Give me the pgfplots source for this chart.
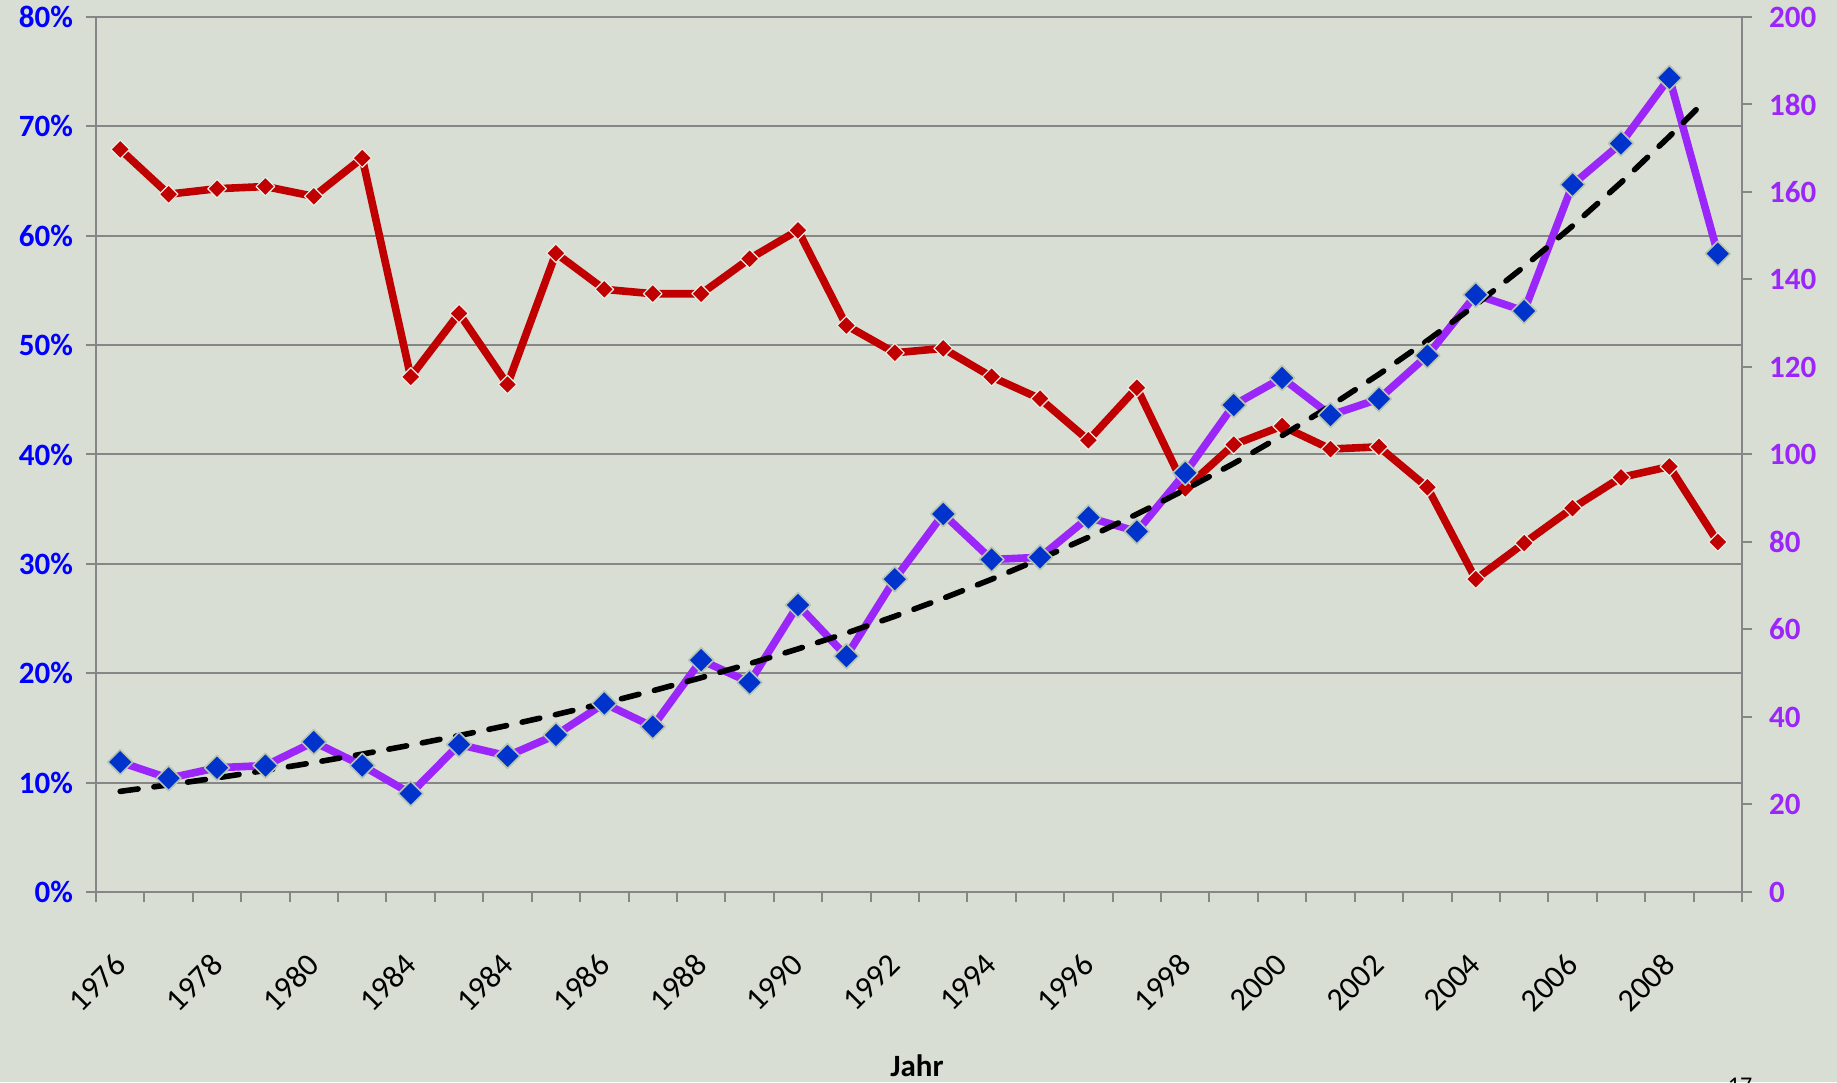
\documentclass[border=0pt]{standalone}
\usepackage{pgfplots}
\pgfplotsset{compat=1.18}
\usepackage{fontspec}
\setmainfont{Carlito}
\definecolor{bg}{RGB}{216,222,212}
\definecolor{redline}{RGB}{192,0,0}
\definecolor{purp}{RGB}{155,38,250}
\definecolor{bluem}{RGB}{0,51,204}
\definecolor{gridc}{RGB}{134,134,134}
\definecolor{labblue}{RGB}{0,0,255}
\definecolor{redborder}{RGB}{236,236,228}
\definecolor{blueborder}{RGB}{182,196,176}

\begin{document}
\begin{tikzpicture}
\fill[bg] (0,0) rectangle (918.5pt,541pt);
\useasboundingbox (0,0) rectangle (918.5pt,541pt);
\begin{axis}[
  at={(48pt,95pt)}, anchor=south west,
  scale only axis, width=823pt, height=437.5pt,
  xmin=0, xmax=34, ymin=0, ymax=80,
  axis x line*=bottom, axis y line*=left,
  axis line style={gridc, line width=1pt, -},
  every tick/.style={gridc, line width=1pt},
  tick align=outside, major tick length=0pt, minor tick length=5pt,
  xtick={0.5,2.5,...,32.5},
  xticklabels={1976,1978,1980,1984,1984,1986,1988,1990,1992,1994,1996,1998,2000,2002,2004,2006,2008},
  minor xtick={0,1,...,34},
  xticklabel style={xshift=-4pt, yshift=-25pt, rotate=45, anchor=north east, black, font=\fontsize{16}{18}\selectfont},
  ytick={0,10,...,80},
  minor ytick={0,10,...,80},
  yticklabels={0\%,10\%,20\%,30\%,40\%,50\%,60\%,70\%,80\%},
  yticklabel style={labblue, font=\fontsize{15.5}{18}\selectfont\bfseries, xshift=-8pt},
  ymajorgrids, grid style={gridc, line width=1pt},
  clip=false,
]
\addplot[redline, line width=3.8pt, line join=round, mark=square*, mark size=3.3pt,
  mark options={rotate=45, fill=redline, draw=redborder, line width=0.6pt}]
coordinates {
(0.5,67.9)(1.5,63.8)(2.5,64.3)(3.5,64.5)(4.5,63.6)(5.5,67.1)(6.5,47.1)(7.5,52.9)
(8.5,46.4)(9.5,58.4)(10.5,55.1)(11.5,54.7)(12.5,54.7)(13.5,57.9)(14.5,60.5)(15.5,51.8)
(16.5,49.3)(17.5,49.7)(18.5,47.1)(19.5,45.1)(20.5,41.3)(21.5,46.1)(22.5,36.9)(23.5,40.9)
(24.5,42.6)(25.5,40.5)(26.5,40.7)(27.5,37.0)(28.5,28.6)(29.5,31.9)(30.5,35.1)(31.5,37.9)
(32.5,38.9)(33.5,32.0)
};
\end{axis}
\begin{axis}[
  at={(48pt,95pt)}, anchor=south west,
  scale only axis, width=823pt, height=437.5pt,
  xmin=0, xmax=34, ymin=0, ymax=200,
  axis x line=none, axis y line*=right,
  axis line style={gridc, line width=1pt, -},
  every tick/.style={gridc, line width=1pt},
  tick align=outside, major tick length=0pt, minor tick length=5pt,
  ytick={0,20,...,200},
  minor ytick={0,20,...,200},
  yticklabels={0,20,40,60,80,100,120,140,160,180,200},
  yticklabel style={purp, font=\fontsize{15.5}{18}\selectfont\bfseries, anchor=west, xshift=10pt},
  clip=false,
]
\addplot[purp, line width=3.8pt, line join=round, mark=square*, mark size=4.4pt,
  mark options={rotate=45, fill=bluem, draw=blueborder, line width=0.8pt}]
coordinates {
(0.5,29.7)(1.5,26.0)(2.5,28.4)(3.5,28.9)(4.5,34.3)(5.5,28.9)(6.5,22.5)(7.5,33.7)
(8.5,31.1)(9.5,35.9)(10.5,43.1)(11.5,37.8)(12.5,53.0)(13.5,47.9)(14.5,65.6)(15.5,53.9)
(16.5,71.5)(17.5,86.4)(18.5,76.0)(19.5,76.5)(20.5,85.6)(21.5,82.4)(22.5,95.8)(23.5,111.3)
(24.5,117.5)(25.5,109.0)(26.5,112.7)(27.5,122.6)(28.5,136.5)(29.5,132.8)(30.5,161.7)(31.5,171.1)
(32.5,186.1)(33.5,145.9)
};
\addplot[black, line width=2.8pt, line cap=round, dash pattern=on 9pt off 8pt, mark=none]
coordinates {
(0.5,23.0)(1.5,24.49)(2.5,26.09)(3.5,27.78)(4.5,29.59)(5.5,31.52)(6.5,33.57)(7.5,35.75)
(8.5,38.07)(9.5,40.55)(10.5,43.18)(11.5,45.99)(12.5,48.98)(13.5,52.17)(14.5,55.56)(15.5,59.17)
(16.5,63.02)(17.5,67.12)(18.5,71.48)(19.5,76.13)(20.5,81.08)(21.5,86.36)(22.5,91.97)(23.5,97.95)
(24.5,104.32)(25.5,111.11)(26.5,118.33)(27.5,126.03)(28.5,134.22)(29.5,142.95)(30.5,152.25)(31.5,162.15)
(32.5,172.69)(33.25,181.0)
};
\end{axis}
\node[anchor=base, font=\fontsize{15.5}{18}\selectfont\bfseries] at (458.5pt,2.5pt) {Jahr};
\node[anchor=base, font=\fontsize{12}{14}\selectfont] at (870pt,-5.5pt) {17};
\end{tikzpicture}
\end{document}
